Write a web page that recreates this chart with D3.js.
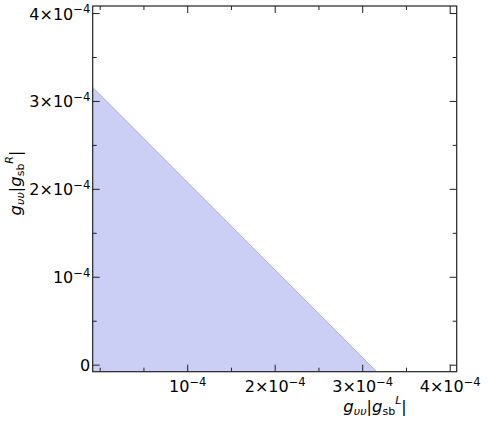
<!DOCTYPE html>
<html>
<head>
<meta charset="utf-8">
<script src="https://cdn.jsdelivr.net/npm/d3@7"></script>
<style>
  body { margin: 0; background: #fff; }
  svg { display: block; }
  text { font-family: "DejaVu Sans", sans-serif; fill: #000; }
</style>
</head>
<body>
<svg id="chart" width="491" height="427"></svg>
<script>
// ---- data ----
const xDomain = [-0.08e-4, 4.08e-4];
const yDomain = [-0.08e-4, 4.08e-4];
const xMajor = [1e-4, 2e-4, 3e-4, 4e-4];
const xMinor = [0, 0.5e-4, 1.5e-4, 2.5e-4, 3.5e-4];
const yMajor = [0, 1e-4, 2e-4, 3e-4, 4e-4];
const yMinor = [0.5e-4, 1.5e-4, 2.5e-4, 3.5e-4];
const xTickMantissa = ["", "2\u00d7", "3\u00d7", "4\u00d7"];
const yTickMantissa = ["0", "", "2\u00d7", "3\u00d7", "4\u00d7"];
const tickExponent = "\u22124";
// allowed-region boundary (line from the y axis edge to the x axis edge)
const boundaryX = [-0.08e-4, 3.165e-4];
const boundaryY = [3.155e-4, -0.08e-4];

// ---- layout ----
const L = 92.7, R = 456.7, T = 6, B = 371.7;
const svg = d3.select("#chart");
const x = d3.scaleLinear().domain(xDomain).range([L, R]);
const y = d3.scaleLinear().domain(yDomain).range([B, T]);

// region fill
const region = [
  [xDomain[0], yDomain[0]],
  [boundaryX[0], boundaryY[0]],
  [boundaryX[1], boundaryY[1]]
];
svg.append("path")
  .attr("d", d3.line().x(d => x(d[0])).y(d => y(d[1]))(region) + "Z")
  .attr("fill", "#cbcff5")
  .attr("stroke", "none");
svg.append("path")
  .attr("d", d3.line().x((d, i) => x(d)).y((d, i) => y(boundaryY[i]))(boundaryX))
  .attr("fill", "none")
  .attr("stroke", "#9fa3cc")
  .attr("stroke-width", 0.8);

function styleAxis(g) {
  g.select(".domain").remove();
  g.selectAll(".tick line").attr("stroke", "#222").attr("stroke-width", 1);
}

const fs = 16;
const efs = 11.5;
// bottom axis with labels
const gB = svg.append("g").attr("transform", `translate(0,${B})`)
  .call(d3.axisBottom(x).tickValues(xMajor).tickSize(-7).tickPadding(0).tickFormat(""))
  .call(styleAxis);
gB.selectAll(".tick text").remove();
gB.selectAll(".tick").append("text")
  .attr("y", 20.5).attr("text-anchor", "middle").attr("font-size", fs)
  .each(function(d, i) {
    const t = d3.select(this);
    t.append("tspan").text(xTickMantissa[i] + "10");
    t.append("tspan").attr("dy", -6.5).attr("font-size", efs).text(tickExponent);
  });
svg.append("g").attr("transform", `translate(0,${B})`)
  .call(d3.axisBottom(x).tickValues(xMinor).tickSize(-4).tickFormat(""))
  .call(styleAxis);

// top axis (mirrored ticks)
svg.append("g").attr("transform", `translate(0,${T})`)
  .call(d3.axisTop(x).tickValues(xMajor).tickSize(-7).tickFormat(""))
  .call(styleAxis);
svg.append("g").attr("transform", `translate(0,${T})`)
  .call(d3.axisTop(x).tickValues(xMinor).tickSize(-4).tickFormat(""))
  .call(styleAxis);

// left axis with labels
const gL = svg.append("g").attr("transform", `translate(${L},0)`)
  .call(d3.axisLeft(y).tickValues(yMajor).tickSize(-7).tickFormat(""))
  .call(styleAxis);
gL.selectAll(".tick text").remove();
gL.selectAll(".tick").append("text")
  .attr("x", -2.5).attr("y", 6).attr("text-anchor", "end").attr("font-size", fs)
  .each(function(d, i) {
    const t = d3.select(this);
    if (yTickMantissa[i] === "0") {
      t.append("tspan").text("0");
    } else {
      t.append("tspan").text(yTickMantissa[i] + "10");
      t.append("tspan").attr("dy", -6.5).attr("font-size", efs).text(tickExponent);
    }
  });
svg.append("g").attr("transform", `translate(${L},0)`)
  .call(d3.axisLeft(y).tickValues(yMinor).tickSize(-4).tickFormat(""))
  .call(styleAxis);

// right axis (mirrored ticks)
svg.append("g").attr("transform", `translate(${R},0)`)
  .call(d3.axisRight(y).tickValues(yMajor).tickSize(-7).tickFormat(""))
  .call(styleAxis);
svg.append("g").attr("transform", `translate(${R},0)`)
  .call(d3.axisRight(y).tickValues(yMinor).tickSize(-4).tickFormat(""))
  .call(styleAxis);

// frame
svg.append("rect")
  .attr("x", L).attr("y", T).attr("width", R - L).attr("height", B - T)
  .attr("fill", "none").attr("stroke", "#222").attr("stroke-width", 1.2);

// axis labels
function axisLabel(t, sup) {
  t.append("tspan").attr("font-style", "italic").attr("font-size", 16.5).text("g");
  t.append("tspan").attr("font-style", "italic").attr("font-size", 11).attr("dy", 3).text("\u03c5\u03c5");
  t.append("tspan").attr("font-size", 16).attr("dy", -3).text("|");
  t.append("tspan").attr("font-style", "italic").attr("font-size", 16.5).text("g");
  t.append("tspan").attr("font-size", 11).attr("dy", 3).text("sb");
  t.append("tspan").attr("font-style", "italic").attr("font-size", 11).attr("dy", -11).text(sup);
  t.append("tspan").attr("font-size", 16).attr("dy", 8).text("|");
}
const xl = svg.append("text").attr("x", 375).attr("y", 412).attr("text-anchor", "middle");
axisLabel(xl, "L");
const yl = svg.append("text").attr("transform", "translate(21,183) rotate(-90)").attr("text-anchor", "middle");
axisLabel(yl, "R");
</script>
</body>
</html>
